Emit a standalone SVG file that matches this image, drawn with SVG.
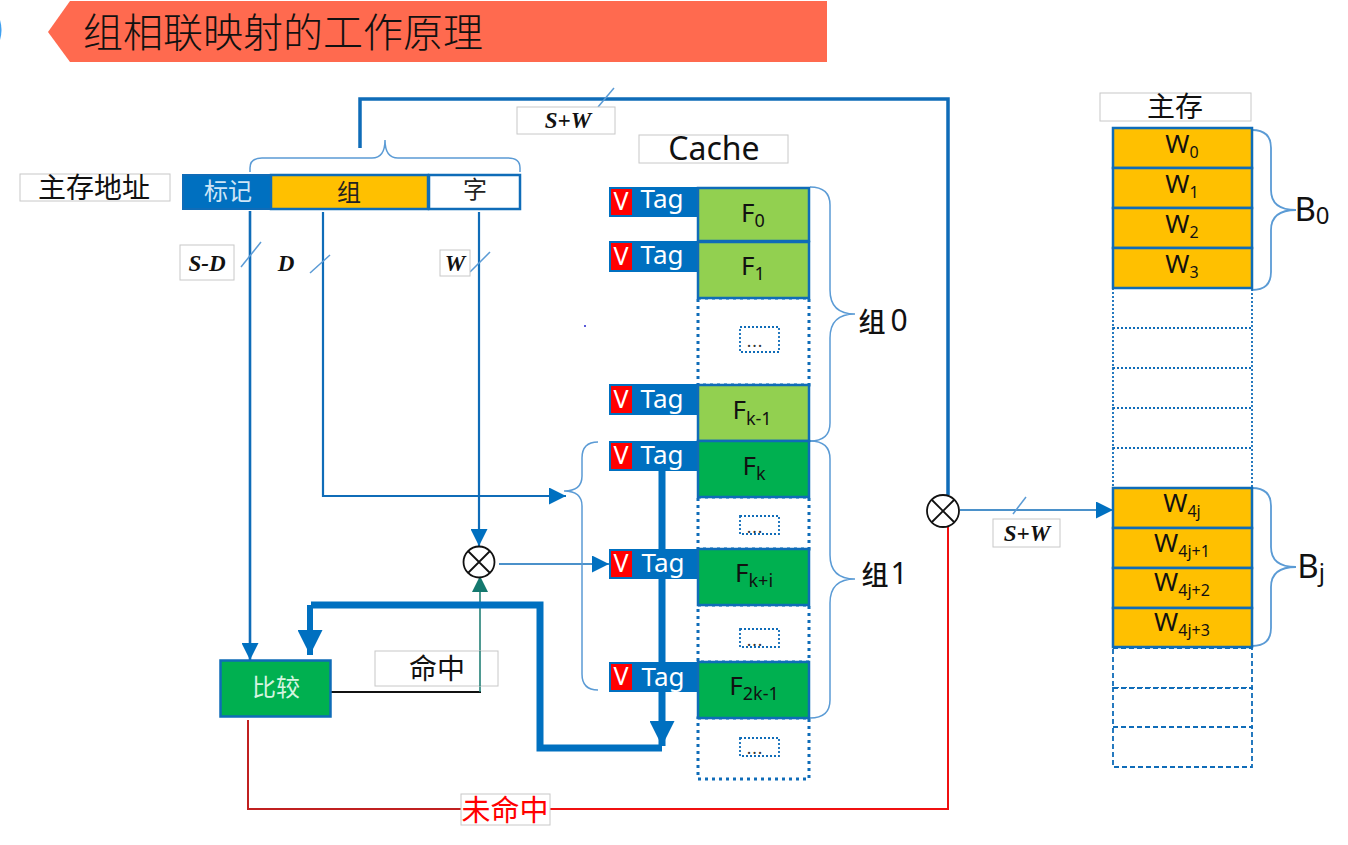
<svg xmlns="http://www.w3.org/2000/svg" width="1348" height="845" viewBox="0 0 1348 845">
<defs>
<marker id="a" viewBox="0 0 10 10" refX="10" refY="5" markerUnits="userSpaceOnUse" markerWidth="17" markerHeight="17" orient="auto"><path d="M0 0L10 5L0 10Z" fill="#0070C0"/></marker>
<marker id="t" viewBox="0 0 10 10" refX="10" refY="5" markerUnits="userSpaceOnUse" markerWidth="16" markerHeight="16" orient="auto"><path d="M0 0L10 5L0 10Z" fill="#14786E"/></marker>
<marker id="b" viewBox="0 0 10 10" refX="10" refY="5" markerUnits="userSpaceOnUse" markerWidth="25" markerHeight="25" orient="auto"><path d="M0 0L10 5L0 10Z" fill="#0070C0"/></marker>
</defs>
<style>
text{font-family:"Noto Sans","Noto Sans CJK SC",sans-serif;text-anchor:middle;fill:#111}
.cjk{font-family:"Noto Sans CJK SC","Noto Sans",sans-serif}
.s{font-family:"Liberation Serif",serif;font-style:italic;font-weight:700;font-size:23px}
.box{fill:#fff;stroke:#c8c8c8;stroke-width:1}
.cell{stroke:#0F6CB8;stroke-width:2.5}
.lg{fill:#92D050}.dg{fill:#00B050}.au{fill:#FFC000}
.dot{fill:#fff;stroke:#0F6CB8;stroke-width:3;stroke-dasharray:3 4}
.dash{fill:#fff;stroke:#0F6CB8;stroke-width:1.8;stroke-dasharray:5 3}
.dot2{fill:#fff;stroke:#0F6CB8;stroke-width:1.8;stroke-dasharray:2 2}
.tag{fill:#0070C0}.v{fill:#F00}
.tw{fill:#fff;font-size:26px}
.f{font-size:26px}
.l{fill:none;stroke:#0F6CB8;stroke-width:2.2}
.br{fill:none;stroke:#5B9BD5;stroke-width:1.5}
.th{fill:none;stroke:#0070C0;stroke-width:7}
.xo{fill:#fff;stroke:#111;stroke-width:1.8}
.k{font-size:25px;fill:#fff}
.d{font-size:17px;letter-spacing:1px;fill:#333}
</style>
<g id="title">
<path d="M0 20Q3 30 0 40Z" fill="#3FA0F0"/>
<path d="M70 1H827V62H70L48 32Z" fill="#FF6A4F"/>
<text class="cjk" x="283" y="47" font-size="40" style="font-weight:300">组相联映射的工作原理</text>
</g>
<g id="connectors">
<path class="l" d="M360 148V99H948V495" style="stroke-width:3.5"/>
<path class="l" d="M250 211V660" style="stroke-width:2.6" marker-end="url(#a)"/>
<path class="l" d="M323 212V496H566" marker-end="url(#a)"/>
<path class="l" d="M479 212V546" marker-end="url(#a)"/>
<path class="l" d="M499 564H609" style="stroke-width:1.5" marker-end="url(#a)"/>
<path d="M331 692H481" fill="none" stroke="#111" stroke-width="2"/>
<path d="M480 692V576" fill="none" stroke="#14786E" stroke-width="1.5" marker-end="url(#t)"/>
<path class="th" d="M662 471V746" marker-end="url(#b)"/>
<path class="th" d="M662 748H540V605H311" stroke-linejoin="miter"/>
<path class="th" d="M310 605V655" style="stroke-width:6" marker-end="url(#b)"/>
<path d="M248 720V809H461" fill="none" stroke="#C02020" stroke-width="2"/>
<path d="M550 809H948V526" fill="none" stroke="#F01010" stroke-width="2"/>
<path class="l" d="M960 510H1113" style="stroke-width:1.5" marker-end="url(#a)"/>
<g class="br">
<path d="M598 107L614 88"/><path d="M241 267L261 242"/><path d="M310 273L330 255"/><path d="M470 272L490 252"/><path d="M1013 514L1026 497"/>
</g>
<path class="br" d="M250 172V168Q250 158 262 158H372Q385 158 385 140Q385 158 398 158H508Q520 158 520 168V172"/>
<path class="br" d="M810 187Q830 187 830 205V290Q830 314 855 314Q830 314 830 338V423Q830 441 810 441"/>
<path class="br" d="M810 441Q830 441 830 459V555Q830 579 855 579Q830 579 830 603V700Q830 718 810 718"/>
<path class="br" d="M598 442Q582 442 582 458V476Q582 491 564 491Q582 491 582 506V674Q582 690 598 690"/>
<path class="br" d="M1252 130Q1271 130 1271 148V190Q1271 210 1296 210Q1271 210 1271 230V272Q1271 290 1252 290" style="stroke-width:1.8"/>
<path class="br" d="M1252 488Q1271 488 1271 506V547Q1271 567 1296 567Q1271 567 1271 587V628Q1271 646 1252 646" style="stroke-width:1.8"/>
</g>
<g id="addr-label"><rect class="box" x="20" y="174" width="150" height="27"/><text class="cjk" x="94" y="198" font-size="28">主存地址</text></g>
<g id="addr">
<rect x="183" y="174" width="88" height="36" class="tag"/>
<rect class="cell au" x="271" y="175" width="157" height="34"/>
<rect class="cell" x="429" y="175" width="91" height="34" fill="#fff"/>
<path d="M183 175H520V209H183Z" fill="none" stroke="#0F6CB8" stroke-width="2"/>
<text class="cjk" x="228" y="200" font-size="24" style="fill:#cfe6f7">标记</text>
<text class="cjk" x="349" y="201" font-size="24" style="fill:#222">组</text>
<text class="cjk" x="475" y="198" font-size="24" style="fill:#222">字</text>
</g>
<g id="label-sw1"><rect class="box" x="517" y="107" width="98" height="27"/><text class="s" x="568" y="128">S+W</text></g>
<g id="label-sd"><rect class="box" x="180" y="245" width="54" height="35"/><text class="s" x="207" y="271">S-D</text></g>
<g id="label-d"><text class="s" x="286" y="271">D</text></g>
<g id="label-w"><rect class="box" x="440" y="250" width="30" height="26"/><text class="s" x="455" y="271">W</text></g>
<g id="label-cache"><rect class="box" x="639" y="135" width="149" height="28"/><text x="714" y="160" font-size="32">Cache</text></g>
<g id="cache-dots">
<rect class="dot" x="698" y="298" width="111" height="87"/>
<rect class="dot" x="698" y="497" width="111" height="52"/>
<rect class="dot" x="698" y="605" width="111" height="57"/>
<rect class="dot" x="698" y="718" width="111" height="61"/>
<rect class="dot2" x="740" y="327" width="39" height="25"/><rect class="dot2" x="740" y="516" width="39" height="18"/><rect class="dot2" x="740" y="629" width="39" height="18"/><rect class="dot2" x="740" y="738" width="39" height="18"/>
<text class="d" x="755" y="347">...</text><text class="d" x="755" y="533">...</text><text class="d" x="755" y="646">...</text><text class="d" x="755" y="754">...</text>
<circle cx="585" cy="326" r="1" fill="#22c"/>
</g>
<g id="line0"><rect class="tag" x="609" y="187" width="89" height="30"/><rect class="v" x="611" y="189" width="21" height="26"/><text class="k" x="621" y="210">V</text><text class="tw" x="662" y="208">Tag</text><rect class="cell lg" x="698" y="188" width="111" height="53"/><text class="f" x="753" y="222">F<tspan font-size="18" dy="5">0</tspan></text></g>
<g id="line1"><rect class="tag" x="609" y="241" width="89" height="31"/><rect class="v" x="611" y="243" width="21" height="27"/><text class="k" x="621" y="265">V</text><text class="tw" x="662" y="264">Tag</text><rect class="cell lg" x="698" y="242" width="111" height="56"/><text class="f" x="753" y="275">F<tspan font-size="18" dy="5">1</tspan></text></g>
<g id="line-k-1"><rect class="tag" x="609" y="384" width="89" height="31"/><rect class="v" x="611" y="386" width="21" height="27"/><text class="k" x="621" y="408">V</text><text class="tw" x="662" y="408">Tag</text><rect class="cell lg" x="698" y="385" width="111" height="56"/><text class="f" x="752" y="419">F<tspan font-size="18" dy="6">k-1</tspan></text></g>
<g id="line-k"><rect class="tag" x="609" y="441" width="89" height="30"/><rect class="v" x="611" y="443" width="21" height="26"/><text class="k" x="621" y="464">V</text><text class="tw" x="662" y="464">Tag</text><rect class="cell dg" x="698" y="441" width="111" height="56"/><text class="f" x="754" y="475">F<tspan font-size="18" dy="5">k</tspan></text></g>
<g id="line-ki"><rect class="tag" x="609" y="549" width="89" height="30"/><rect class="v" x="611" y="551" width="21" height="26"/><text class="k" x="621" y="572">V</text><text class="tw" x="663" y="572">Tag</text><rect class="cell dg" x="698" y="549" width="111" height="56"/><text class="f" x="754" y="582">F<tspan font-size="18" dy="5">k+i</tspan></text></g>
<g id="line-2k-1"><rect class="tag" x="609" y="662" width="89" height="30"/><rect class="v" x="611" y="664" width="21" height="26"/><text class="k" x="621" y="685">V</text><text class="tw" x="663" y="686">Tag</text><rect class="cell dg" x="698" y="662" width="111" height="56"/><text class="f" x="754" y="695">F<tspan font-size="18" dy="5">2k-1</tspan></text></g>
<g id="label-g0"><text class="cjk" x="872" y="332" font-size="27" style="font-weight:500">组</text><text x="899" y="331" font-size="30">0</text></g>
<g id="label-g1"><text class="cjk" x="875" y="585" font-size="27" style="font-weight:500">组</text><text x="899" y="584" font-size="30">1</text></g>
<g id="compare"><rect x="220.500" y="660.500" width="110" height="56" class="cell dg"/><text class="cjk" x="276" y="696" font-size="24" style="fill:#d6f5e0">比较</text></g>
<g id="label-hit"><rect class="box" x="375" y="651" width="123" height="35"/><text class="cjk" x="437" y="679" font-size="28">命中</text></g>
<path d="M480 651V686" stroke="#14786E" stroke-width="1.5"/>
<g id="label-miss"><rect class="box" x="461" y="794" width="89" height="31"/><text class="cjk" x="505" y="821" font-size="29" style="fill:#F00">未命中</text></g>
<g id="xor1"><circle class="xo" cx="479" cy="562" r="15.500"/><path d="M468 551L490 573M490 551L468 573" stroke="#111" stroke-width="1.800"/></g>
<g id="xor2"><circle class="xo" cx="943" cy="511" r="16"/><path d="M932 500L954 522M954 500L932 522" stroke="#111" stroke-width="1.800"/></g>
<g id="label-sw2"><rect class="box" x="993" y="519" width="67" height="28"/><text class="s" x="1027" y="541">S+W</text></g>
<g id="label-mem"><rect class="box" x="1100" y="93" width="151" height="28"/><text class="cjk" x="1175" y="117" font-size="28">主存</text></g>
<g id="memory">
<rect class="dot2" x="1113" y="288" width="139" height="40"/><rect class="dot2" x="1113" y="328" width="139" height="40"/><rect class="dot2" x="1113" y="368" width="139" height="40"/><rect class="dot2" x="1113" y="408" width="139" height="40"/><rect class="dot2" x="1113" y="448" width="139" height="40"/>
<rect class="dash" x="1113" y="648" width="139" height="40"/><rect class="dash" x="1113" y="688" width="139" height="39"/><rect class="dash" x="1113" y="727" width="139" height="40"/>
<rect class="cell au" x="1113" y="128" width="139" height="40"/><rect class="cell au" x="1113" y="168" width="139" height="40"/><rect class="cell au" x="1113" y="208" width="139" height="40"/><rect class="cell au" x="1113" y="248" width="139" height="40"/>
<rect class="cell au" x="1113" y="488" width="139" height="40"/><rect class="cell au" x="1113" y="528" width="139" height="40"/><rect class="cell au" x="1113" y="568" width="139" height="40"/><rect class="cell au" x="1113" y="608" width="139" height="39"/>
<text class="f" x="1182" y="153">W<tspan font-size="16" dy="5">0</tspan></text><text class="f" x="1182" y="193">W<tspan font-size="16" dy="5">1</tspan></text><text class="f" x="1182" y="233">W<tspan font-size="16" dy="5">2</tspan></text><text class="f" x="1182" y="273">W<tspan font-size="16" dy="5">3</tspan></text>
<text class="f" x="1182" y="512">W<tspan font-size="16" dy="5">4j</tspan></text><text class="f" x="1182" y="552">W<tspan font-size="16" dy="5">4j+1</tspan></text><text class="f" x="1182" y="591">W<tspan font-size="16" dy="5">4j+2</tspan></text><text class="f" x="1182" y="631">W<tspan font-size="16" dy="5">4j+3</tspan></text>
</g>
<g id="label-b0"><text x="1312" y="221" font-size="33">B<tspan font-size="24" dy="3">0</tspan></text></g>
<g id="label-bj"><text x="1311" y="578" font-size="33">B<tspan font-size="24" dy="3">j</tspan></text></g>
</svg>
